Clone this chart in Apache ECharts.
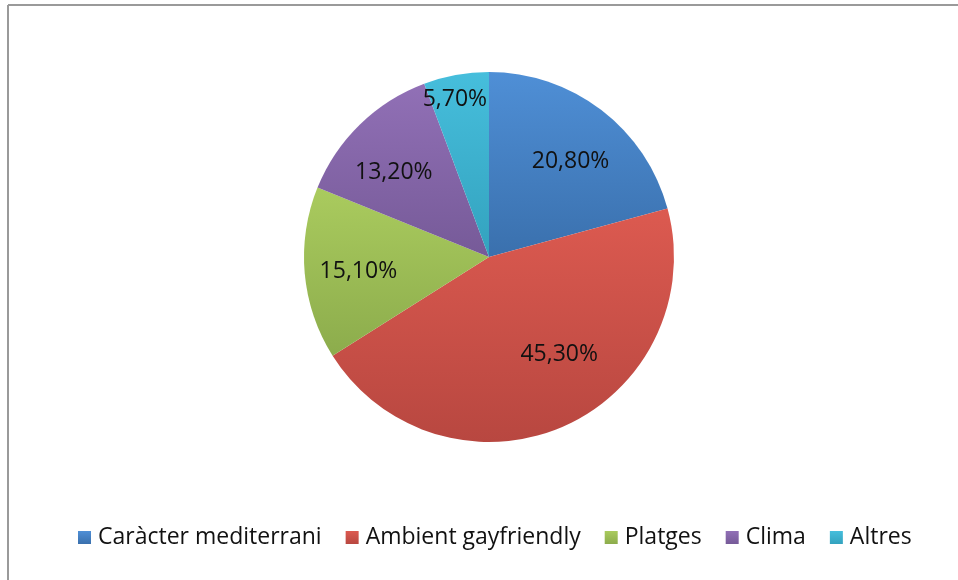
<!DOCTYPE html>
<html>
<head>
<meta charset="utf-8">
<script src="https://cdn.jsdelivr.net/npm/echarts@6/dist/echarts.min.js"></script>
<style>
  html, body { margin: 0; background: #fff; }
  #chart { width: 958px; height: 580px; }
</style>
</head>
<body>
<div id="chart"></div>
<script>
const categories = ['Caràcter mediterrani', 'Ambient gayfriendly', 'Platges', 'Clima', 'Altres'];
const values = [20.8, 45.3, 15.1, 13.2, 5.7];
const labels = ['20,80%', '45,30%', '15,10%', '13,20%', '5,70%'];

// Office style colours, light at top, darker at bottom
const colorsTop = ['#4f8fd6', '#dc5a50', '#aacb5e', '#9170b6', '#46bedc'];
const colorsBottom = ['#3a70ad', '#b84740', '#8cac4c', '#765a98', '#33a2be'];

// where Excel dropped each label: share of the radius and a small turn (deg)
const labelRadius = [0.68, 0.65, 0.71, 0.69, 0.87];
const labelTurn = [3, -12, -1, -4, -2];

const FONT = 'Open Sans';
const cx = 489, cy = 257, R = 185;
const total = values.reduce((a, b) => a + b, 0);

const chart = echarts.init(document.getElementById('chart'), null, { renderer: 'canvas' });

const option = {
  animation: false,
  color: colorsTop,
  graphic: [
    { type: 'line', shape: { x1: 8, y1: 5, x2: 958, y2: 5 }, style: { stroke: '#9a9a9a', lineWidth: 2 } },
    { type: 'line', shape: { x1: 8, y1: 5, x2: 8, y2: 580 }, style: { stroke: '#9a9a9a', lineWidth: 2 } }
  ],
  legend: {
    data: categories,
    top: 526,
    left: 78,
    padding: 0,
    icon: 'rect',
    itemWidth: 13,
    itemHeight: 13,
    itemGap: 24,
    textStyle: { fontFamily: FONT, fontSize: 23, color: '#111', padding: [0, 0, 0, 2] }
  },
  series: [{
    type: 'pie',
    center: [cx, cy],
    radius: R,
    startAngle: 90,
    clockwise: true,
    data: categories.map((name, i) => ({
      name: name,
      value: values[i],
      itemStyle: {
        color: new echarts.graphic.LinearGradient(0, 0, 0, 1, [
          { offset: 0, color: colorsTop[i] },
          { offset: 1, color: colorsBottom[i] }
        ])
      }
    })),
    label: {
      show: true,
      position: 'inside',
      formatter: p => labels[p.dataIndex],
      fontFamily: FONT,
      fontSize: 23,
      color: '#111'
    },
    labelLine: { show: false },
    emphasis: { disabled: true },
    labelLayout: function (p) {
      const i = p.dataIndex;
      const before = values.slice(0, i).reduce((a, b) => a + b, 0);
      const mid = ((before + values[i] / 2) / total * 360 + labelTurn[i]) * Math.PI / 180;
      return {
        x: cx + Math.sin(mid) * R * labelRadius[i],
        y: cy - Math.cos(mid) * R * labelRadius[i],
        align: 'center',
        verticalAlign: 'middle'
      };
    }
  }]
};

chart.setOption(option);
</script>
</body>
</html>
